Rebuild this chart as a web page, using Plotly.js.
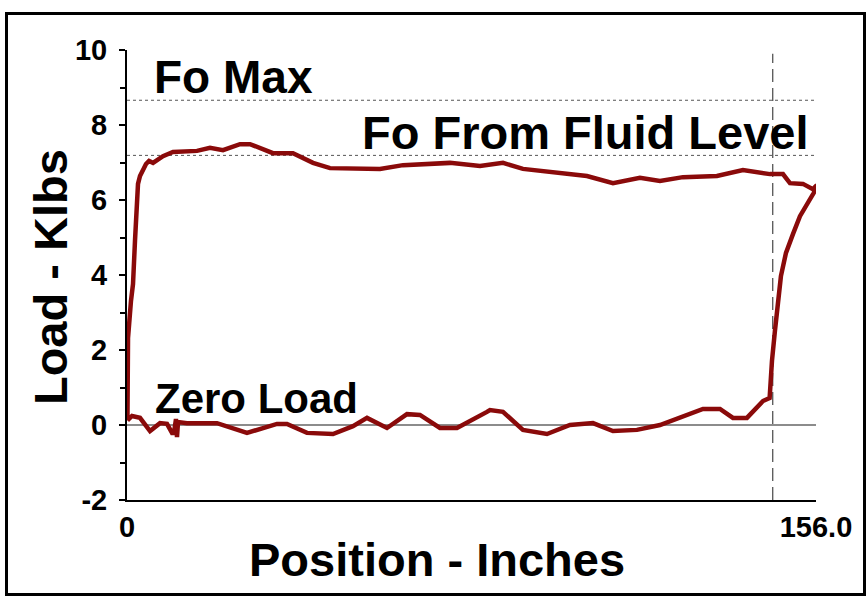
<!DOCTYPE html>
<html>
<head>
<meta charset="utf-8">
<script src="https://cdn.plot.ly/plotly-3.0.1.min.js"></script>
<style>
  html, body { margin: 0; padding: 0; background: #fff; }
  #chart { width: 867px; height: 596px; }
  #frame { position: absolute; left: 5px; top: 12px; width: 855px; height: 578px;
           border: 3px solid #000; pointer-events: none; }
</style>
</head>
<body>
<div id="chart"></div>
<div id="frame"></div>
<script>
// Surface card: position (inches) and load (klbs), traced around the loop
const positionIn = [0.1, 0.1, 0.23, 0.9, 1.36, 1.81, 2.04, 2.49, 2.94, 3.4, 4.3, 4.98, 5.89, 8.15, 10.41,
  15.85, 18.79, 21.73, 25.58, 27.85, 30.79, 33.05, 37.58, 39.17, 42.11, 45.96, 51.17, 57.28, 62.49,
  73.13, 79.92, 85.13, 89.65, 95.77, 104.14, 110.03, 116.14, 120.67, 125.88, 133.57, 139.46, 145.57,
  148.52, 150.1, 153.05, 155.31, 156.2, 155.5, 153.95, 152.37, 150.78, 149.2, 148.06, 147.38, 146.7,
  146.03, 145.57, 145.5, 143.99, 140.36, 137.2, 134.26, 130.41, 125.2, 120.67, 115.46, 110.03, 105.5,
  100.29, 95.09, 89.65, 85.13, 82.18, 81.5, 74.71, 70.86, 66.33, 63.39, 58.86, 54.34, 51.17, 46.64,
  40.75, 36.22, 33.96, 27.17, 24.0, 20.38, 13.58, 11.55, 11.32, 11.09, 10.64, 10.2, 9.06, 7.47, 5.21,
  2.94, 1.13, 0.1];
const loadKlbs = [0.12, 1.5, 2.32, 3.31, 3.76, 4.91, 5.52, 6.43, 6.64, 6.77, 6.96, 7.04, 6.99, 7.17, 7.28,
  7.31, 7.39, 7.33, 7.49, 7.49, 7.36, 7.25, 7.25, 7.17, 6.99, 6.85, 6.85, 6.83, 6.93,
  6.99, 6.91, 6.99, 6.83, 6.75, 6.64, 6.45, 6.59, 6.51, 6.61, 6.64, 6.80, 6.69,
  6.69, 6.45, 6.43, 6.29, 6.4, 6.19, 5.89, 5.57, 5.09, 4.59, 3.97, 3.31, 2.51,
  1.71, 0.83, 0.72, 0.64, 0.19, 0.19, 0.43, 0.43, 0.19, 0.0, -0.13, -0.16, 0.05,
  0.0, -0.24, -0.13, 0.35, 0.4, 0.35, -0.08, -0.08, 0.27, 0.29, -0.08, 0.19, -0.03, -0.24,
  -0.21, 0.03, 0.03, -0.21, -0.08, 0.05, 0.05, 0.08, -0.32, 0.16, -0.21, -0.21, 0.03, 0.05, -0.16,
  0.19, 0.24, 0.12];

// Reference levels (klbs) and markers
const foMax = 8.66;
const foFluidLevel = 7.19;
const zeroLoad = 0;
const strokeLength = 156.0;
const stopPosition = 146.2;
const xTickVals = [0, 156];
const xTickText = ['0', '156.0'];
const yTickVals = [-2, 0, 2, 4, 6, 8, 10];
const yTickText = ['-2', '0', '2', '4', '6', '8', '10'];
const xRange = [0, 156];
const yRange = [-2, 10];
const labels = {
  foMax: 'Fo Max',
  foFluid: 'Fo From Fluid Level',
  zero: 'Zero Load',
  xTitle: 'Position - Inches',
  yTitle: 'Load - Klbs'
};

const FONT = 'Arial, "Liberation Sans", sans-serif';

const traces = [
  { x: [0, strokeLength], y: [foMax, foMax], mode: 'lines',
    line: { color: '#555', width: 1, dash: 'dot' }, hoverinfo: 'skip' },
  { x: [0, strokeLength], y: [foFluidLevel, foFluidLevel], mode: 'lines',
    line: { color: '#555', width: 1, dash: 'dot' }, hoverinfo: 'skip' },
  { x: [0, strokeLength], y: [zeroLoad, zeroLoad], mode: 'lines',
    line: { color: '#666', width: 1.3 }, hoverinfo: 'skip' },
  { x: [stopPosition, stopPosition], y: [yRange[0], 9.9], mode: 'lines',
    line: { color: '#555', width: 1.3, dash: '13px,6px' }, hoverinfo: 'skip' },
  { x: positionIn, y: loadKlbs, mode: 'lines',
    line: { color: '#8a0a0a', width: 4.5, shape: 'linear' } }
];

const layout = {
  width: 867, height: 596,
  margin: { l: 127, r: 51, t: 50, b: 96 },
  paper_bgcolor: '#fff', plot_bgcolor: '#fff',
  showlegend: false,
  font: { family: FONT, color: '#000' },
  xaxis: {
    range: xRange, showgrid: false, zeroline: false,
    showline: true, linecolor: '#000', linewidth: 2,
    tickmode: 'array', tickvals: xTickVals, ticktext: xTickText,
    ticks: 'inside', ticklen: 9, tickwidth: 2, tickcolor: '#000',
    tickfont: { family: FONT, size: 29, color: '#000', weight: 'bold' },
    ticklabelstandoff: 0
  },
  yaxis: {
    range: yRange, showgrid: false, zeroline: false,
    showline: true, linecolor: '#000', linewidth: 2,
    tickmode: 'array', tickvals: yTickVals, ticktext: yTickText,
    ticks: 'outside', ticklen: 6, tickwidth: 2, tickcolor: '#000',
    minor: { dtick: 1, ticks: 'outside', ticklen: 5, tickwidth: 2, tickcolor: '#000', showgrid: false },
    tickfont: { family: FONT, size: 29, color: '#000', weight: 'bold' },
    ticklabelstandoff: 6
  },
  annotations: [
    { x: 0.45, y: -0.133, xref: 'paper', yref: 'paper', text: labels.xTitle, showarrow: false,
      xanchor: 'center', yanchor: 'middle', font: { family: FONT, size: 47, color: '#000', weight: 'bold' } },
    { x: -0.112, y: 0.495, xref: 'paper', yref: 'paper', text: labels.yTitle, showarrow: false,
      textangle: -90, xanchor: 'center', yanchor: 'middle',
      font: { family: FONT, size: 47, color: '#000', weight: 'bold' } },
    { x: 5.6, y: 9.28, xref: 'x', yref: 'y', text: labels.foMax, showarrow: false,
      xanchor: 'left', yanchor: 'middle', font: { family: FONT, size: 46, color: '#000', weight: 'bold' } },
    { x: 52.8, y: 7.81, xref: 'x', yref: 'y', text: labels.foFluid, showarrow: false,
      xanchor: 'left', yanchor: 'middle', font: { family: FONT, size: 47, color: '#000', weight: 'bold' } },
    { x: 5.9, y: 0.72, xref: 'x', yref: 'y', text: labels.zero, showarrow: false,
      xanchor: 'left', yanchor: 'middle', font: { family: FONT, size: 42, color: '#000', weight: 'bold' } }
  ]
};

Plotly.newPlot('chart', traces, layout, { staticPlot: true, displayModeBar: false });
</script>
</body>
</html>
